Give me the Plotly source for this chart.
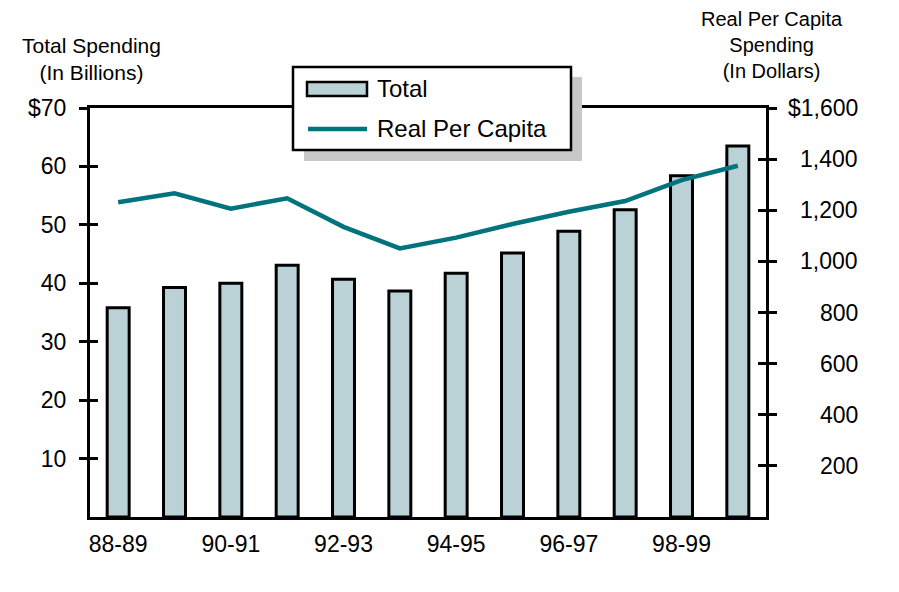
import plotly.graph_objects as go

# School years on the category axis
years = ["88-89", "89-90", "90-91", "91-92", "92-93", "93-94",
         "94-95", "95-96", "96-97", "97-98", "98-99", "99-00"]
year_labels = years[0::2]

# Total spending, billions of dollars (left axis)
total_billions = [35.8, 39.3, 40.0, 43.1, 40.7, 38.7,
                  41.7, 45.2, 48.9, 52.6, 58.4, 63.5]

# Real per capita spending, dollars (right axis)
per_capita = [1231, 1266, 1206, 1247, 1135, 1051,
              1093, 1146, 1194, 1236, 1318, 1374]

left_ticks = [10, 20, 30, 40, 50, 60, 70]
left_ticktext = ["10", "20", "30", "40", "50", "60", "$70"]
right_ticks = [200, 400, 600, 800, 1000, 1200, 1400, 1600]
right_ticktext = ["200", "400", "600", "800", "1,000", "1,200", "1,400", "$1,600"]

BAR_FILL = "#BAD1D5"
LINE_TEAL = "#00737D"
FONT = "Arial, Liberation Sans, sans-serif"
TICK_SIZE = 23

W, H = 899, 592
L, R, T, B = 90, 766, 108, 517

def fx(p):
    return (p - L) / (R - L)

def fy(p):
    return (B - p) / (B - T)

fig = go.Figure()
fig.add_trace(go.Bar(
    x=years, y=total_billions, name="Total",
    marker=dict(color=BAR_FILL, line=dict(color="black", width=3)),
    showlegend=False, yaxis="y",
))
fig.add_trace(go.Scatter(
    x=years, y=per_capita, name="Real Per Capita", mode="lines",
    line=dict(color=LINE_TEAL, width=4.5),
    showlegend=False, yaxis="y2",
))
# empty traces so the overlay axes carrying the inner tick halves get drawn
for ax in ("y3", "y4"):
    fig.add_trace(go.Scatter(x=[years[0]], y=[None], yaxis=ax, mode="lines",
                             showlegend=False, hoverinfo="skip"))

tick_style = dict(tickcolor="black", tickwidth=3, ticklen=8, showgrid=False, zeroline=False)

fig.update_layout(
    width=W, height=H,
    margin=dict(l=L, r=W - R, t=T, b=H - B, pad=0),
    paper_bgcolor="white", plot_bgcolor="white",
    font=dict(family=FONT, size=TICK_SIZE, color="black"),
    bargap=0.61,
    xaxis=dict(type="category", tickmode="array", tickvals=year_labels, ticktext=year_labels,
               showline=True, linecolor="black", linewidth=3, mirror=True,
               showgrid=False, ticks="", ticklabelstandoff=4,
               tickfont=dict(size=TICK_SIZE)),
    yaxis=dict(range=[0, 70], tickmode="array", tickvals=left_ticks, ticktext=left_ticktext,
               showline=True, linecolor="black", linewidth=3, ticks="outside",
               ticklabelstandoff=8, tickfont=dict(size=TICK_SIZE), **tick_style),
    yaxis2=dict(range=[0, 1600], overlaying="y", side="right", tickmode="array",
                tickvals=right_ticks, showticklabels=False,
                showline=True, linecolor="black", linewidth=3, ticks="outside", **tick_style),
    yaxis3=dict(range=[0, 70], overlaying="y", side="left", tickmode="array",
                tickvals=left_ticks, showticklabels=False, showline=False,
                ticks="inside", **tick_style),
    yaxis4=dict(range=[0, 1600], overlaying="y", side="right", tickmode="array",
                tickvals=right_ticks, showticklabels=False, showline=False,
                ticks="inside", **tick_style),
)

annotations = []
# right-axis tick labels, right aligned
for v, t in zip(right_ticks, right_ticktext):
    annotations.append(dict(x=fx(860), xref="paper", y=v, yref="y2", text=t,
                            showarrow=False, xanchor="right", yanchor="middle",
                            font=dict(size=TICK_SIZE)))

# axis titles
annotations.append(dict(x=fx(91), xref="paper", y=fy(59), yref="paper",
                        text="Total Spending<br>(In Billions)", align="center",
                        showarrow=False, xanchor="center", yanchor="middle",
                        font=dict(size=21)))
annotations.append(dict(x=fx(772), xref="paper", y=fy(45), yref="paper",
                        text="Real Per Capita<br>Spending<br>(In Dollars)", align="center",
                        showarrow=False, xanchor="center", yanchor="middle",
                        font=dict(size=20)))

# legend text
annotations.append(dict(x=fx(375), xref="paper", y=fy(88), yref="paper", text="Total",
                        showarrow=False, xanchor="left", yanchor="middle", font=dict(size=24)))
annotations.append(dict(x=fx(375), xref="paper", y=fy(128), yref="paper", text="Real Per Capita",
                        showarrow=False, xanchor="left", yanchor="middle", font=dict(size=24)))

shapes = [
    # legend drop shadow and frame
    dict(type="rect", xref="paper", yref="paper", x0=fx(304), x1=fx(582), y0=fy(161), y1=fy(77),
         fillcolor="#C8C8C8", line=dict(width=0), layer="above"),
    dict(type="rect", xref="paper", yref="paper", x0=fx(293), x1=fx(571), y0=fy(150), y1=fy(67),
         fillcolor="white", line=dict(color="black", width=2.5), layer="above"),
    # legend swatches
    dict(type="rect", xref="paper", yref="paper", x0=fx(307), x1=fx(367), y0=fy(96), y1=fy(82),
         fillcolor=BAR_FILL, line=dict(color="black", width=2.5), layer="above"),
    dict(type="line", xref="paper", yref="paper", x0=fx(308), x1=fx(367), y0=fy(129), y1=fy(129),
         line=dict(color=LINE_TEAL, width=4.5), layer="above"),
]

fig.update_layout(annotations=annotations, shapes=shapes)
fig.write_html("out.html")
